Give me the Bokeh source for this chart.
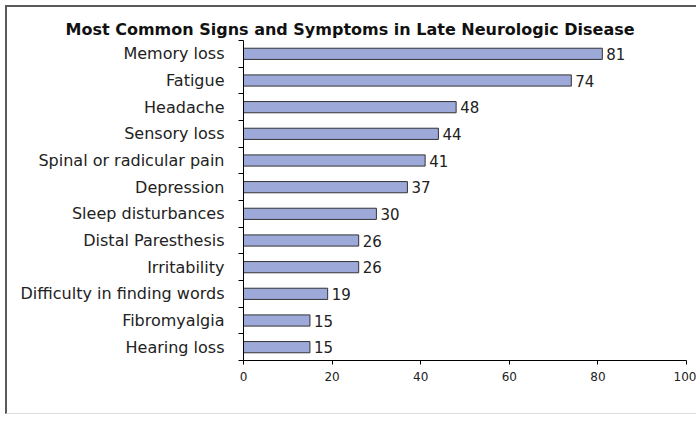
from bokeh.plotting import figure
from bokeh.models import ColumnDataSource, FixedTicker, Range1d, LabelSet
from bokeh.core.properties import value
from bokeh.embed import file_html
from bokeh.resources import INLINE

categories = ["Memory loss", "Fatigue", "Headache", "Sensory loss",
              "Spinal or radicular pain", "Depression", "Sleep disturbances",
              "Distal Paresthesis", "Irritability", "Difficulty in finding words",
              "Fibromyalgia", "Hearing loss"]
values = [81, 74, 48, 44, 41, 37, 30, 26, 26, 19, 15, 15]
x_ticks = [0, 20, 40, 60, 80, 100]
title_text = "Most Common Signs and Symptoms in Late Neurologic Disease"

n = len(categories)
ycent = [n - 1 - i + 0.5 for i in range(n)]
src = ColumnDataSource(dict(y=ycent, v=values, lab=[str(v) for v in values], cat=categories))

FONT = "DejaVu Sans"

p = figure(width=691, height=409, output_backend="svg", toolbar_location=None,
           x_range=Range1d(0, 100), y_range=Range1d(0, n),
           min_border_left=236, min_border_right=12, min_border_top=33, min_border_bottom=56,
           title=title_text)
p.styles = {"margin-left": "5px", "margin-top": "5px",
            "border-left": "2px solid #5a5a5a", "border-top": "2px solid #5a5a5a",
            "border-bottom": "1px solid #dddddd", "border-right": "0px none",
            "overflow": "hidden"}
p.outline_line_color = None
p.background_fill_color = "white"
p.border_fill_color = "white"
p.xgrid.visible = False
p.ygrid.visible = False

p.title.align = "left"
p.title.offset = -178
p.title.text_font = FONT
p.title.text_font_size = "16px"
p.title.text_font_style = "bold"
p.title.text_color = "#111111"
p.title.standoff = 4

p.hbar(y="y", left=0, right="v", height=0.42, source=src,
       fill_color="#9DAAD9", line_color="#333333", line_width=1)

labels = LabelSet(x="v", y="y", text="lab", source=src, x_offset=4,
                  text_baseline="middle", text_font=value(FONT), text_font_size="15px",
                  text_color="#222222")
p.add_layout(labels)

# x axis
p.xaxis.ticker = FixedTicker(ticks=x_ticks)
p.xaxis.major_label_text_font = FONT
p.xaxis.major_label_text_font_size = "12px"
p.xaxis.major_label_text_color = "#222222"
p.xaxis.major_tick_out = 4
p.xaxis.major_tick_in = 0
p.xaxis.minor_tick_out = 0
p.xaxis.minor_tick_in = 0
p.xaxis.major_label_standoff = 7
p.xaxis.axis_line_color = "#000000"
p.xaxis.major_tick_line_color = "#000000"

# y axis: labels at centers, ticks at boundaries
p.yaxis.ticker = FixedTicker(ticks=ycent, minor_ticks=list(range(n + 1)))
p.yaxis.major_label_overrides = {yc: c for yc, c in zip(ycent, categories)}
p.yaxis.major_label_text_font = FONT
p.yaxis.major_label_text_font_size = "16px"
p.yaxis.major_label_text_color = "#222222"
p.yaxis.major_tick_out = 0
p.yaxis.major_tick_in = 0
p.yaxis.minor_tick_out = 5
p.yaxis.minor_tick_in = 0
p.yaxis.minor_tick_line_color = "#000000"
p.yaxis.major_label_standoff = 14
p.yaxis.axis_line_color = "#000000"

open("out.html", "w").write(file_html(p, INLINE))
